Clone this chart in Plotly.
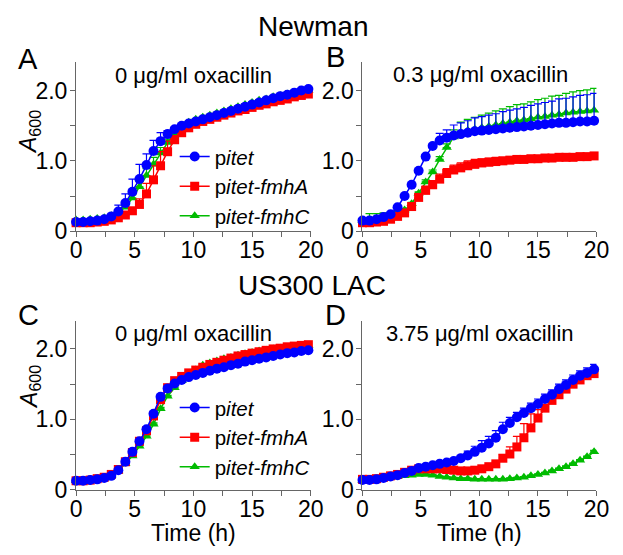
import plotly.graph_objects as go

W, H = 623, 555

time_h = [0.0, 0.6, 1.2, 1.8, 2.4, 3.0, 3.6, 4.2, 4.8, 5.4, 6.0, 6.6, 7.2, 7.8, 8.4, 9.0, 9.6,
          10.2, 10.8, 11.4, 12.0, 12.6, 13.2, 13.8, 14.4, 15.0, 15.6, 16.2, 16.8, 17.4, 18.0,
          18.6, 19.2, 19.8]

series_names = ["p<i>itet</i>", "p<i>itet-fmhA</i>", "p<i>itet-fmhC</i>"]
panel_titles = ["0 \u03bcg/ml oxacillin", "0.3 \u03bcg/ml oxacillin",
                "0 \u03bcg/ml oxacillin", "3.75 \u03bcg/ml oxacillin"]
strain_titles = ["Newman", "US300 LAC"]
panel_letters = ["A", "B", "C", "D"]
x_title = "Time (h)"
y_title = "<i>A</i><sub>600</sub>"
x_tickvals = [0, 5, 10, 15, 20]
x_ticktext = ["0", "5", "10", "15", "20"]
x_minor_tickvals = [2.5, 7.5, 12.5, 17.5]
y_tickvals = [0, 1.0, 2.0]
y_ticktext = ["0", "1.0", "2.0"]
y_minor_tickvals = [0.5, 1.5]

# Panel A: Newman, 0 ug/ml
a_itet = [0.13, 0.13, 0.14, 0.15, 0.17, 0.21, 0.28, 0.40, 0.56, 0.74, 0.94, 1.14, 1.28, 1.38, 1.45, 1.50, 1.53,
          1.56, 1.59, 1.62, 1.65, 1.68, 1.71, 1.74, 1.77, 1.80, 1.83, 1.86, 1.89, 1.92, 1.94, 1.97, 2.00, 2.02]
a_itet_err = [0, 0, 0, 0, 0.01, 0.03, 0.09, 0.13, 0.18, 0.21, 0.16, 0.15, 0.12, 0.05, 0.03, 0.02, 0.02,
              0.02, 0.02, 0.02, 0.02, 0.02, 0.02, 0.02, 0.02, 0.02, 0.02, 0.02, 0.02, 0.02, 0.02, 0.02, 0.02, 0.02]
a_fmhA = [0.12, 0.12, 0.12, 0.13, 0.14, 0.16, 0.19, 0.23, 0.29, 0.38, 0.53, 0.73, 0.93, 1.13, 1.30, 1.40, 1.47,
          1.52, 1.56, 1.59, 1.62, 1.65, 1.68, 1.71, 1.73, 1.76, 1.79, 1.81, 1.84, 1.86, 1.88, 1.91, 1.93, 1.95]
a_fmhA_err = [0, 0, 0, 0, 0, 0.01, 0.01, 0.02, 0.04, 0.08, 0.15, 0.20, 0.20, 0.15, 0.06, 0.03, 0.02,
              0.02, 0.02, 0.02, 0.02, 0.02, 0.02, 0.02, 0.02, 0.02, 0.02, 0.02, 0.02, 0.02, 0.02, 0.02, 0.02, 0.02]
a_fmhC = [0.16, 0.16, 0.17, 0.18, 0.19, 0.22, 0.27, 0.34, 0.47, 0.63, 0.79, 0.95, 1.11, 1.26, 1.40, 1.49, 1.55,
          1.59, 1.62, 1.65, 1.68, 1.71, 1.74, 1.77, 1.80, 1.83, 1.86, 1.88, 1.91, 1.93, 1.95, 1.97, 1.99, 2.00]
a_fmhC_err = [0, 0, 0, 0, 0, 0.01, 0.01, 0.02, 0.05, 0.08, 0.10, 0.10, 0.08, 0.05, 0.02, 0.01, 0.01,
              0.01, 0.01, 0.01, 0.01, 0.01, 0.01, 0.01, 0.01, 0.01, 0.01, 0.01, 0.01, 0.01, 0.01, 0.01, 0.01, 0.01]

# Panel B: Newman, 0.3 ug/ml
b_itet = [0.15, 0.15, 0.17, 0.20, 0.24, 0.34, 0.50, 0.66, 0.86, 1.06, 1.21, 1.29, 1.33, 1.36, 1.38, 1.40, 1.42,
          1.43, 1.44, 1.45, 1.46, 1.47, 1.48, 1.49, 1.50, 1.51, 1.52, 1.53, 1.54, 1.54, 1.55, 1.56, 1.56, 1.57]
b_itet_err = [0, 0, 0, 0, 0, 0, 0.01, 0.01, 0.02, 0.02, 0.03, 0.10, 0.11, 0.15, 0.16, 0.17, 0.19,
              0.20, 0.21, 0.22, 0.24, 0.25, 0.26, 0.27, 0.29, 0.30, 0.31, 0.32, 0.34, 0.35, 0.36, 0.37, 0.38, 0.39]
b_fmhA = [0.12, 0.12, 0.13, 0.14, 0.17, 0.21, 0.26, 0.35, 0.48, 0.58, 0.66, 0.74, 0.82, 0.87, 0.90, 0.93, 0.95,
          0.97, 0.98, 0.99, 1.00, 1.01, 1.02, 1.02, 1.03, 1.03, 1.04, 1.04, 1.05, 1.05, 1.05, 1.06, 1.06, 1.07]
b_fmhA_err = [0, 0, 0, 0, 0.01, 0.01, 0.02, 0.02, 0.03, 0.06, 0.06, 0.07, 0.07, 0.07, 0.07, 0.07, 0.07,
              0.06, 0.06, 0.06, 0.05, 0.05, 0.05, 0.05, 0.04, 0.04, 0.04, 0.04, 0.04, 0.04, 0.04, 0.04, 0.04, 0.04]
b_fmhC = [0.15, 0.17, 0.17, 0.18, 0.19, 0.24, 0.30, 0.39, 0.54, 0.70, 0.84, 1.02, 1.19, 1.34, 1.40, 1.43, 1.45,
          1.47, 1.49, 1.51, 1.53, 1.55, 1.57, 1.58, 1.60, 1.62, 1.63, 1.65, 1.66, 1.68, 1.69, 1.70, 1.71, 1.72]
b_fmhC_err = [0, 0.08, 0.08, 0.08, 0.07, 0.04, 0.02, 0.02, 0.02, 0.03, 0.03, 0.04, 0.05, 0.10, 0.15, 0.16, 0.17,
              0.18, 0.19, 0.20, 0.21, 0.22, 0.23, 0.23, 0.24, 0.25, 0.26, 0.27, 0.27, 0.28, 0.29, 0.30, 0.30, 0.31]

# Panel C: USA300 LAC, 0 ug/ml
c_itet = [0.13, 0.13, 0.14, 0.15, 0.17, 0.20, 0.28, 0.40, 0.54, 0.69, 0.86, 1.08, 1.32, 1.44, 1.51, 1.56, 1.60,
          1.63, 1.66, 1.69, 1.72, 1.74, 1.77, 1.79, 1.82, 1.84, 1.86, 1.88, 1.90, 1.92, 1.94, 1.95, 1.97, 1.98]
c_itet_err = [0, 0, 0, 0, 0, 0.01, 0.01, 0.01, 0.01, 0.01, 0.02, 0.02, 0.02, 0.01, 0.01, 0.01, 0.01,
              0.01, 0.01, 0.01, 0.01, 0.01, 0.01, 0.01, 0.01, 0.01, 0.01, 0.01, 0.01, 0.01, 0.01, 0.01, 0.01, 0.01]
c_fmhA = [0.13, 0.13, 0.14, 0.16, 0.18, 0.22, 0.29, 0.40, 0.53, 0.69, 0.84, 1.05, 1.28, 1.45, 1.55, 1.61, 1.66,
          1.70, 1.74, 1.78, 1.81, 1.84, 1.87, 1.90, 1.92, 1.94, 1.96, 1.98, 2.00, 2.01, 2.03, 2.04, 2.05, 2.06]
c_fmhA_err = [0, 0, 0, 0, 0, 0.01, 0.01, 0.01, 0.01, 0.01, 0.02, 0.02, 0.02, 0.01, 0.01, 0.01, 0.01,
              0.01, 0.01, 0.01, 0.01, 0.01, 0.01, 0.01, 0.01, 0.01, 0.01, 0.01, 0.01, 0.01, 0.01, 0.01, 0.01, 0.01]
c_fmhC = [0.13, 0.13, 0.14, 0.15, 0.17, 0.20, 0.27, 0.37, 0.48, 0.62, 0.76, 0.93, 1.15, 1.33, 1.45, 1.55, 1.62,
          1.70, 1.77, 1.80, 1.83, 1.86, 1.88, 1.91, 1.93, 1.95, 1.97, 1.98, 2.00, 2.01, 2.02, 2.03, 2.04, 2.05]
c_fmhC_err = [0, 0, 0, 0, 0, 0.01, 0.01, 0.01, 0.01, 0.01, 0.02, 0.02, 0.02, 0.01, 0.01, 0.01, 0.01,
              0.01, 0.01, 0.01, 0.01, 0.01, 0.01, 0.01, 0.01, 0.01, 0.01, 0.01, 0.01, 0.01, 0.01, 0.01, 0.01, 0.01]

# Panel D: USA300 LAC, 3.75 ug/ml
d_itet = [0.14, 0.14, 0.15, 0.17, 0.19, 0.21, 0.24, 0.27, 0.31, 0.33, 0.35, 0.37, 0.39, 0.41, 0.45, 0.49, 0.54,
          0.60, 0.66, 0.74, 0.86, 0.95, 1.03, 1.09, 1.16, 1.22, 1.29, 1.35, 1.43, 1.49, 1.56, 1.62, 1.66, 1.71]
d_itet_err = [0, 0, 0, 0, 0, 0.01, 0.01, 0.01, 0.01, 0.01, 0.02, 0.02, 0.02, 0.03, 0.04, 0.06, 0.08,
              0.10, 0.10, 0.10, 0.10, 0.08, 0.07, 0.07, 0.07, 0.07, 0.07, 0.07, 0.07, 0.07, 0.07, 0.07, 0.07, 0.07]
d_fmhA = [0.15, 0.15, 0.16, 0.18, 0.20, 0.22, 0.25, 0.28, 0.30, 0.30, 0.30, 0.30, 0.29, 0.28, 0.27, 0.27, 0.28,
          0.30, 0.33, 0.37, 0.45, 0.51, 0.61, 0.74, 0.88, 1.02, 1.16, 1.27, 1.35, 1.43, 1.50, 1.56, 1.62, 1.65]
d_fmhA_err = [0, 0, 0, 0, 0, 0.01, 0.01, 0.01, 0.01, 0.01, 0.01, 0.01, 0.01, 0.01, 0.01, 0.01, 0.02,
              0.02, 0.03, 0.03, 0.05, 0.10, 0.15, 0.20, 0.20, 0.12, 0.05, 0.04, 0.04, 0.04, 0.04, 0.04, 0.04, 0.04]
d_fmhC = [0.13, 0.14, 0.15, 0.16, 0.18, 0.19, 0.20, 0.21, 0.22, 0.22, 0.21, 0.19, 0.18, 0.17, 0.16, 0.16, 0.15,
          0.15, 0.15, 0.15, 0.15, 0.16, 0.17, 0.18, 0.20, 0.22, 0.24, 0.27, 0.30, 0.33, 0.37, 0.42, 0.47, 0.54]
d_fmhC_err = [0, 0, 0, 0, 0, 0.01, 0.01, 0.01, 0.01, 0.01, 0.01, 0.01, 0.01, 0.01, 0.01, 0.01, 0.01,
              0.01, 0.01, 0.01, 0.01, 0.01, 0.01, 0.01, 0.01, 0.01, 0.01, 0.01, 0.01, 0.01, 0.01, 0.01, 0.01, 0.02]

panels = [
    (a_itet, a_itet_err, a_fmhA, a_fmhA_err, a_fmhC, a_fmhC_err),
    (b_itet, b_itet_err, b_fmhA, b_fmhA_err, b_fmhC, b_fmhC_err),
    (c_itet, c_itet_err, c_fmhA, c_fmhA_err, c_fmhC, c_fmhC_err),
    (d_itet, d_itet_err, d_fmhA, d_fmhA_err, d_fmhC, d_fmhC_err),
]

FONT = "Liberation Sans, Arial, sans-serif"
colors = ["#0000FF", "#FF0000", "#00BB00"]
symbols = ["circle", "square", "triangle-up"]
msizes = [10, 9, 9]
AXC = "#666666"


def px_x(p):
    return p / W


def px_y(p):
    return 1 - p / H


# axis pixel geometry
x_left = [(72.3, 314.3), (367.7, 609.0), (72.3, 314.3), (367.7, 609.0)]
y_pix = [(236.7, 63.9), (236.7, 63.9), (501.7, 328.4), (501.7, 328.4)]

fig = go.Figure()
for i, pdata in enumerate(panels):
    xa = "x" if i == 0 else f"x{i+1}"
    ya = "y" if i == 0 else f"y{i+1}"
    legend_id = "legend" if i == 0 else ("legend2" if i == 2 else None)
    series = [(pdata[0], pdata[1]), (pdata[2], pdata[3]), (pdata[4], pdata[5])]
    for k in [2, 1, 0]:
        vals, err = series[k]
        tr = go.Scatter(
            x=time_h, y=vals, mode="lines+markers", name=series_names[k],
            line=dict(color=colors[k], width=1.5),
            marker=dict(color=colors[k], symbol=symbols[k], size=msizes[k]),
            error_y=dict(type="data", symmetric=False, array=err, arrayminus=[0] * len(err),
                         color=colors[k], thickness=1.2, width=4),
            xaxis=xa, yaxis=ya, cliponaxis=False, legendrank=k + 1,
            showlegend=legend_id is not None,
        )
        if legend_id is not None:
            tr.legend = legend_id
        fig.add_trace(tr)

layout = dict(
    width=W, height=H, margin=dict(l=0, r=0, t=0, b=0),
    paper_bgcolor="white", plot_bgcolor="white",
    font=dict(family=FONT, color="black", size=22),
)
for i in range(4):
    sfx = "" if i == 0 else str(i + 1)
    xd = [px_x(x_left[i][0]), px_x(x_left[i][1])]
    yd = [px_y(y_pix[i][0]), px_y(y_pix[i][1])]
    layout["xaxis" + sfx] = dict(
        domain=xd, range=[0, 20], anchor="y" + sfx, showline=True, linecolor=AXC, linewidth=1.2,
        ticks="outside", ticklen=5, tickcolor=AXC, tickwidth=1.2, showgrid=False, zeroline=False,
        tickvals=x_tickvals, ticktext=x_ticktext, tickfont=dict(size=23, family=FONT),
        ticklabelstandoff=-7,
        minor=dict(tickvals=x_minor_tickvals, ticks="outside", ticklen=5, tickcolor=AXC,
                   tickwidth=1.2, showgrid=False),
    )
    layout["yaxis" + sfx] = dict(
        domain=yd, range=[0, 2.4], anchor="x" + sfx, showline=True, linecolor=AXC, linewidth=1.2,
        ticks="outside", ticklen=5, tickcolor=AXC, tickwidth=1.2, showgrid=False, zeroline=False,
        tickvals=y_tickvals, ticktext=y_ticktext, tickfont=dict(size=23, family=FONT),
        ticklabelstandoff=-2,
        minor=dict(tickvals=y_minor_tickvals, ticks="outside", ticklen=5, tickcolor=AXC,
                   tickwidth=1.2, showgrid=False),
    )

layout["legend"] = dict(x=px_x(174), y=px_y(140), xanchor="left", yanchor="top",
                        bgcolor="rgba(0,0,0,0)", font=dict(size=20.5, family=FONT),
                        tracegroupgap=0, itemwidth=30)
layout["legend2"] = dict(x=px_x(174), y=px_y(397), xanchor="left", yanchor="top",
                         bgcolor="rgba(0,0,0,0)", font=dict(size=20.5, family=FONT),
                         tracegroupgap=0, itemwidth=30)

ann = []
for txt, (cx, cy) in zip(strain_titles, [(316.5, 27), (316, 292)]):
    ann.append(dict(text=txt, x=px_x(cx), y=px_y(cy), xref="paper", yref="paper",
                    showarrow=False, font=dict(size=28, family=FONT), xanchor="center", yanchor="middle"))
for txt, (cx, cy) in zip(panel_letters, [(22.5, 60), (340, 58), (23, 323), (340, 323)]):
    ann.append(dict(text=txt, x=px_x(cx), y=px_y(cy), xref="paper", yref="paper",
                    showarrow=False, font=dict(size=29, family=FONT), xanchor="center", yanchor="middle"))
for txt, (cx, cy) in zip(panel_titles, [(193.5, 77), (489, 76), (193.5, 342), (489, 342)]):
    ann.append(dict(text=txt, x=px_x(cx), y=px_y(cy), xref="paper", yref="paper",
                    showarrow=False, font=dict(size=22, family=FONT), xanchor="center", yanchor="middle"))
for cx in [193.3, 488.3]:
    ann.append(dict(text=x_title, x=px_x(cx), y=px_y(545.5), xref="paper", yref="paper",
                    showarrow=False, font=dict(size=23, family=FONT), xanchor="center", yanchor="middle"))
for cy in [135, 396]:
    ann.append(dict(text=y_title, x=px_x(25), y=px_y(cy), xref="paper", yref="paper",
                    showarrow=False, textangle=-90, font=dict(size=23, family=FONT),
                    xanchor="center", yanchor="middle"))
layout["annotations"] = ann

fig.update_layout(**layout)
fig.write_html("out.html", config={"displayModeBar": False},
               post_script="document.documentElement.style.margin='0';document.body.style.margin='0';"
                           "document.documentElement.style.overflow='hidden';document.body.style.overflow='hidden';")
